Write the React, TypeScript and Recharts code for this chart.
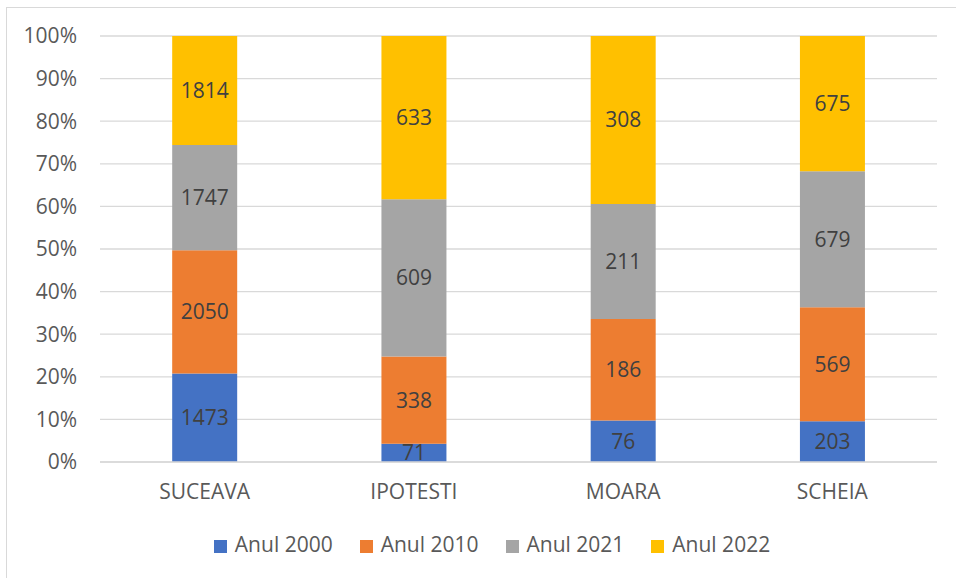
import React from "react";
import { BarChart, Bar, XAxis, YAxis, CartesianGrid, Legend, LabelList } from "recharts";

const categories = ["SUCEAVA", "IPOTESTI", "MOARA", "SCHEIA"];
const anul2000 = [1473, 71, 76, 203];
const anul2010 = [2050, 338, 186, 569];
const anul2021 = [1747, 609, 211, 679];
const anul2022 = [1814, 633, 308, 675];
const yTicks = [0, 0.1, 0.2, 0.3, 0.4, 0.5, 0.6, 0.7, 0.8, 0.9, 1];

const seriesDefs = [
  { key: "a2000", name: "Anul 2000", color: "#4472C4" },
  { key: "a2010", name: "Anul 2010", color: "#ED7D31" },
  { key: "a2021", name: "Anul 2021", color: "#A5A5A5" },
  { key: "a2022", name: "Anul 2022", color: "#FFC000" },
];

const data = categories.map((c, i) => ({
  cat: c,
  a2000: anul2000[i],
  a2010: anul2010[i],
  a2021: anul2021[i],
  a2022: anul2022[i],
}));

const FONT = "'Open Sans', 'Liberation Sans', sans-serif";
const FS = 21;

export default function App() {
  return (
    <div style={{ position: "absolute", left: 0, top: 0, width: 956, height: 578, background: "#fff" }}>
      <div
        style={{
          position: "absolute",
          left: 6,
          top: 7,
          width: 960,
          height: 580,
          border: "1px solid #d9d9d9",
          boxSizing: "border-box",
        }}
      />
      <div style={{ position: "absolute", left: 0, top: 0 }}>
        <BarChart
          width={956}
          height={578}
          data={data}
          stackOffset="expand"
          margin={{ top: 36, right: 19, bottom: 58, left: 0 }}
          barCategoryGap="34.5%"
        >
          <CartesianGrid vertical={false} stroke="#d9d9d9" strokeWidth={1.3} />
          <XAxis
            dataKey="cat"
            height={30}
            axisLine={{ stroke: "#d9d9d9", strokeWidth: 1.3 }}
            tickLine={false}
            tickMargin={16}
            tick={{ fill: "#595959", fontSize: FS, fontFamily: FONT }}
          />
          <YAxis
            width={100}
            ticks={yTicks}
            domain={[0, 1]}
            interval={0}
            axisLine={false}
            tickLine={false}
            tickMargin={17}
            tickFormatter={(v: number) => `${Math.round(v * 100)}%`}
            tick={{ fill: "#595959", fontSize: FS, fontFamily: FONT }}
          />
          <Legend
            verticalAlign="bottom"
            align="center"
            iconType="square"
            iconSize={13}
            wrapperStyle={{ bottom: 20, left: 37, fontFamily: FONT, fontSize: FS }}
            formatter={(value: string) => (
              <span style={{ color: "#595959", marginLeft: 4, marginRight: 17 }}>{value}</span>
            )}
          />
          {seriesDefs.map((s) => (
            <Bar key={s.key} dataKey={s.key} name={s.name} stackId="a" fill={s.color} isAnimationActive={false}>
              <LabelList
                position="center"
                valueAccessor={(entry: any) => entry.payload[s.key]}
                fill="#404040"
                fontSize={FS}
                fontFamily={FONT}
              />
            </Bar>
          ))}
        </BarChart>
      </div>
    </div>
  );
}
